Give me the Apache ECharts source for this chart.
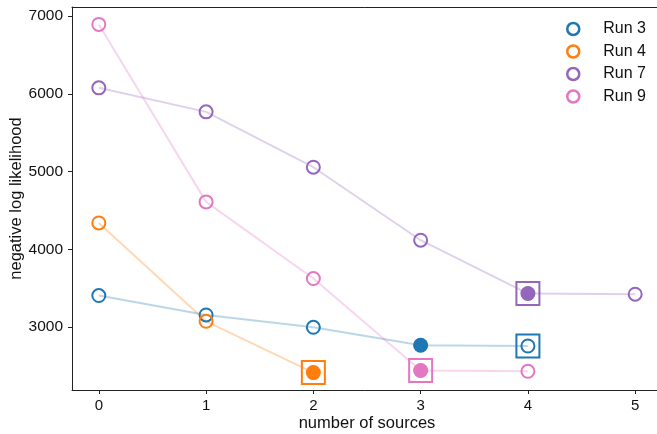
<!DOCTYPE html>
<html>
<head>
<meta charset="utf-8">
<script src="https://cdn.jsdelivr.net/npm/echarts@6/dist/echarts.min.js"></script>
<style>html,body{margin:0;padding:0;background:#fff}#c{width:657px;height:434px}</style>
</head>
<body>
<div id="c"></div>
<script>
const sources = [0, 1, 2, 3, 4, 5];
const runNames = ['Run 3', 'Run 4', 'Run 7', 'Run 9'];
const run3 = [3404, 3154, 2996, 2764, 2755];
const run4 = [4338, 3073, 2413];
const run7 = [6076, 5767, 5055, 4116, 3430, 3421];
const run9 = [6892, 4609, 3623, 2439, 2430];
const filledIdx = [3, 2, 4, 3];
const squareIdx = [4, 2, 4, 3];
const xTicks = [0, 1, 2, 3, 4, 5];
const yTicks = [3000, 4000, 5000, 6000, 7000];

const colors = ['#1f77b4', '#ff7f0e', '#9467bd', '#e377c2'];
const runs = [run3, run4, run7, run9];
const FONT = '"Liberation Sans", Arial, sans-serif';

function hexA(h, a) {
  const r = parseInt(h.slice(1, 3), 16), g = parseInt(h.slice(3, 5), 16), b = parseInt(h.slice(5, 7), 16);
  return `rgba(${r},${g},${b},${a})`;
}

const series = [];
runs.forEach((vals, i) => {
  const pts = vals.map((v, k) => [sources[k], v]);
  series.push({
    name: runNames[i], type: 'line', data: pts, z: 2,
    symbol: 'circle', symbolSize: 13,
    lineStyle: { color: hexA(colors[i], 0.3), width: 2 },
    itemStyle: { color: 'rgba(255,255,255,0)', borderColor: colors[i], borderWidth: 2, opacity: 1 },
    emphasis: { disabled: true }
  });
});
runs.forEach((vals, i) => {
  const k = filledIdx[i];
  series.push({
    name: runNames[i] + ' best', type: 'scatter', z: 3,
    data: [[sources[k], vals[k]]], symbol: 'circle', symbolSize: 14,
    itemStyle: { color: colors[i], opacity: 1 }, emphasis: { disabled: true }
  });
});
runs.forEach((vals, i) => {
  const k = squareIdx[i];
  series.push({
    name: runNames[i] + ' sel', type: 'scatter', z: 4,
    data: [[sources[k], vals[k]]], symbol: 'rect', symbolSize: 23,
    itemStyle: { color: 'rgba(255,255,255,0)', borderColor: colors[i], borderWidth: 2, opacity: 1 },
    emphasis: { disabled: true }
  });
});

const axisCol = '#222';
const chart = echarts.init(document.getElementById('c'), null, { renderer: 'canvas' });
chart.setOption({
  animation: false,
  backgroundColor: '#fff',
  grid: { left: 72, top: 7, width: 590, height: 383, containLabel: false, outerBoundsMode: 'none' },
  legend: {
    orient: 'vertical', left: 561, top: 16, itemGap: 6.5, itemWidth: 12, itemHeight: 12,
    textStyle: { fontFamily: FONT, fontSize: 16, color: '#111', padding: [0, 0, 0, 19] },
    data: runNames.map((n, i) => ({
      name: n, icon: 'circle',
      itemStyle: { color: 'rgba(255,255,255,0)', borderColor: colors[i], borderWidth: 2.5 }
    }))
  },
  xAxis: [{
    type: 'value', min: -0.25, max: 5.25, position: 'bottom',
    name: 'number of sources', nameLocation: 'middle', nameGap: 25, nameMoveOverlap: false,
    nameTextStyle: { fontFamily: FONT, fontSize: 16.5, color: '#111', verticalAlign: 'top' },
    axisLine: { show: true, onZero: false, lineStyle: { color: axisCol, width: 1 } },
    axisTick: { show: true, length: 4, lineStyle: { color: axisCol }, customValues: xTicks },
    axisLabel: { fontFamily: FONT, fontSize: 15, color: '#111', margin: 8, customValues: xTicks,
      formatter: v => String(v) },
    splitLine: { show: false }
  }, {
    type: 'value', min: -0.25, max: 5.25, position: 'top',
    axisLine: { show: true, onZero: false, lineStyle: { color: axisCol, width: 1 } },
    axisTick: { show: false }, axisLabel: { show: false }, splitLine: { show: false }
  }],
  yAxis: {
    type: 'value', min: 2189, max: 7116,
    name: 'negative log likelihood', nameLocation: 'middle', nameGap: 47, nameMoveOverlap: false,
    nameTextStyle: { fontFamily: FONT, fontSize: 16.5, color: '#111' },
    axisLine: { show: true, onZero: false, lineStyle: { color: axisCol, width: 1 } },
    axisTick: { show: true, length: 4, lineStyle: { color: axisCol }, customValues: yTicks },
    axisLabel: { fontFamily: FONT, fontSize: 15.5, color: '#111', margin: 9, customValues: yTicks,
      formatter: v => String(v) },
    splitLine: { show: false }
  },
  series: series
});
</script>
</body>
</html>
